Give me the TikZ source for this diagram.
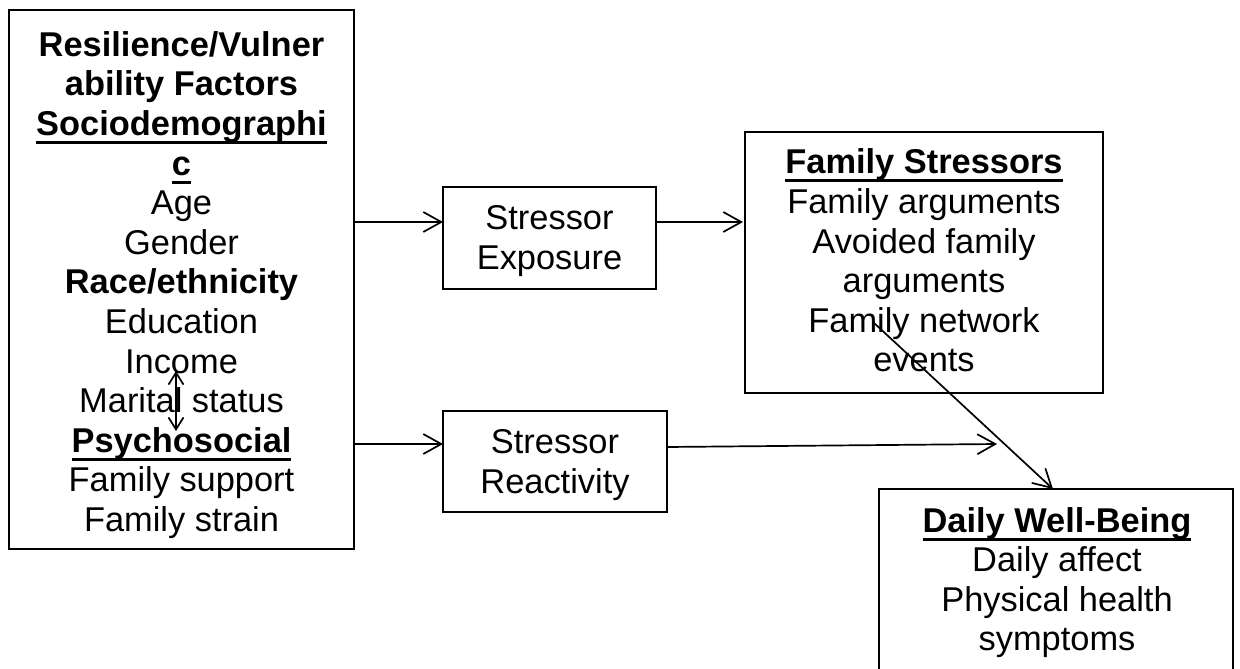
\documentclass[tikz,border=0pt]{standalone}
\usepackage{fontspec}
\setmainfont{Liberation Sans}
\usetikzlibrary{arrows.meta}
\newsavebox\ulbox
\newcommand\ulbf[1]{\sbox\ulbox{\bfseries #1}\rlap{\rule[-8.5pt]{\wd\ulbox}{3pt}}\usebox\ulbox}
\tikzset{
  box/.style={draw, line width=1.9pt, inner sep=0pt, outer sep=0pt},
  txt/.style={align=center, inner sep=0pt, font={\fontsize{34.4}{39.6}\selectfont}},
  arr/.style={-{Straight Barb[length=18pt,width=20pt]}, line width=1.7pt},
  darr/.style={{Straight Barb[length=12pt,width=15pt]}-{Straight Barb[length=12pt,width=15pt]}, line width=1.7pt}
}
\begin{document}
\begin{tikzpicture}[x=1pt,y=-1pt]
\useasboundingbox (0,0) rectangle (1240,669);
\clip (0,0) rectangle (1240,669);
\fill[white] (0,0) rectangle (1240,669);
% boxes
\node[box, minimum width=345pt, minimum height=539pt] (lbox) at (181.5,279.5) {};
\node[box, minimum width=213pt, minimum height=102pt] (expo) at (549.5,238) {};
\node[box, minimum width=224pt, minimum height=101pt] (reac) at (555,461.5) {};
\node[box, minimum width=358pt, minimum height=261pt] (fam) at (924,262.5) {};
\node[box, minimum width=354pt, minimum height=211pt] (daily) at (1056,594.5) {};
% texts
\node[txt] (ltxt) at (181.5,285) {\textbf{Resilience/Vulner}\\\textbf{ability Factors}\\\ulbf{Sociodemographi}\\\ulbf{c}\\Age\\Gender\\\textbf{Race/ethnicity}\\Education\\Income\\Marital status\\\ulbf{Psychosocial}\\Family support\\Family strain};
\node[txt] (etxt) at (549.5,241.3) {Stressor\\Exposure};
\node[txt] (rtxt) at (555,465) {Stressor\\Reactivity};
\node[txt] (ftxt) at (924,260.6) {\ulbf{Family Stressors}\\Family arguments\\Avoided family\\arguments\\Family network\\events};
\node[txt] (dtxt) at (1057,582.5) {\ulbf{Daily Well-Being}\\Daily affect\\Physical health\\symptoms};
% helper coordinates
\coordinate (y1) at (0,222);
\coordinate (y2) at (0,444);
\coordinate (y3) at (0,447);
\coordinate (rend) at (997,444);
\coordinate (dstart) at (873,322);
\coordinate (dx) at (1053,0);
\coordinate (da1) at (176,371);
\coordinate (da2) at (176,431);
% connectors
\draw[arr] (lbox.east |- y1) -- (expo.west |- y1);
\draw[arr] (expo.east |- y1) -- ([xshift=-2pt]fam.west |- y1);
\draw[arr] (lbox.east |- y2) -- (reac.west |- y2);
\draw[arr] (reac.east |- y3) -- (rend);
\draw[arr] (dstart) -- (dx |- daily.north);
\draw[darr] (da1) -- (da2);
\end{tikzpicture}
\end{document}
